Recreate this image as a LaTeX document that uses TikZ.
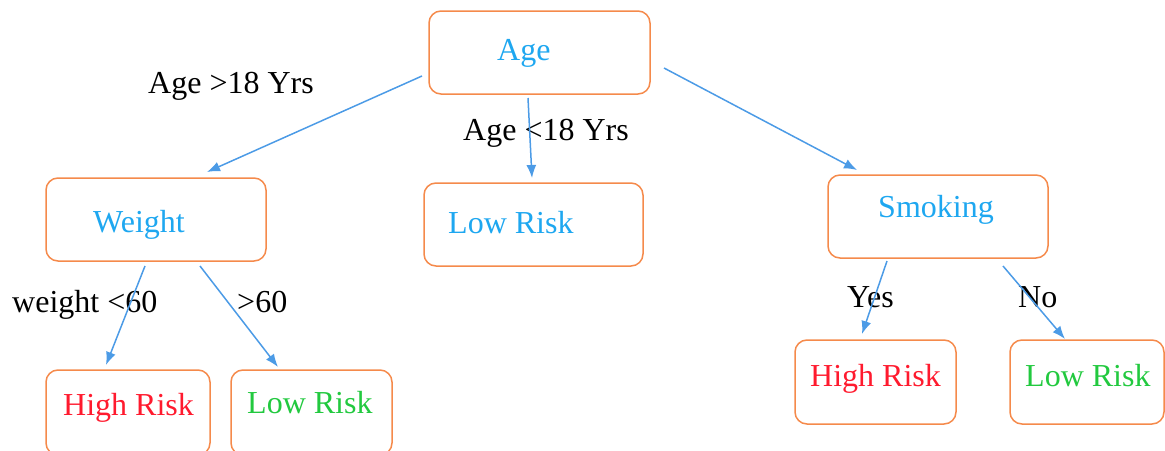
\documentclass[tikz,border=0pt]{standalone}
\usepackage{fontspec}
\setmainfont{Liberation Serif}
\usetikzlibrary{arrows.meta}
\definecolor{boxorange}{HTML}{F58A4B}
\definecolor{txtblue}{HTML}{1EA7F0}
\definecolor{arrblue}{HTML}{4C9BE6}
\definecolor{txtred}{HTML}{FF1A2E}
\definecolor{txtgreen}{HTML}{22C93F}
\tikzset{
  box/.style={draw=boxorange, line width=1.5pt, rounded corners=12pt, inner sep=0pt, outer sep=0pt},
  lbl/.style={font=\fontsize{32}{38}\selectfont, anchor=base west, inner sep=0pt},
  conn/.style={draw=arrblue, line width=1.5pt, -{Latex[length=13pt,width=10pt]}}
}
\begin{document}
\begin{tikzpicture}[x=1pt,y=-1pt]
\useasboundingbox (0,0) rectangle (1165,450);
\clip (0,0) rectangle (1165,450);
% boxes
\node[box, minimum width=221pt, minimum height=83pt] (agebox) at (539.5,52.5) {};
\node[box, minimum width=220pt, minimum height=83pt] (weightbox) at (156,219.5) {};
\node[box, minimum width=219pt, minimum height=83pt] (lowmidbox) at (533.5,224.5) {};
\node[box, minimum width=220pt, minimum height=83pt] (smokebox) at (938,216.5) {};
\node[box, minimum width=164pt, minimum height=85pt] (highLbox) at (128,412.5) {};
\node[box, minimum width=161pt, minimum height=85pt] (lowLbox) at (311.5,412.5) {};
\node[box, minimum width=161pt, minimum height=84pt] (highRbox) at (875.5,382) {};
\node[box, minimum width=154pt, minimum height=84pt] (lowRbox) at (1087,382) {};
% box texts
\node[lbl, text=txtblue] (age) at (497,60) {Age};
\node[lbl, text=txtblue] (weight) at (93,232) {Weight};
\node[lbl, text=txtblue] (lowmid) at (448,233) {Low Risk};
\node[lbl, text=txtblue] (smoking) at (878,217) {Smoking};
\node[lbl, text=txtred] (highL) at (63,415) {High Risk};
\node[lbl, text=txtgreen] (lowL) at (247,413) {Low Risk};
\node[lbl, text=txtred] (highR) at (810,386) {High Risk};
\node[lbl, text=txtgreen] (lowR) at (1025,386) {Low Risk};
% edge labels
\node[lbl] (l1) at (148,93) {Age >18 Yrs};
\node[lbl] (l2) at (463,140) {Age <18 Yrs};
\node[lbl] (l3) at (12,312) {weight <60};
\node[lbl] (l4) at (237,312) {>60};
\node[lbl] (l5) at (847,307) {Yes};
\node[lbl] (l6) at (1018,307) {No};
% connector endpoints
\coordinate (a1) at (422,76);   \coordinate (w1) at (207,172);
\coordinate (a2) at (528,98);   \coordinate (m1) at (532,178);
\coordinate (a3) at (664,68);   \coordinate (s1) at (857,170);
\coordinate (w2) at (145,266);  \coordinate (hl) at (106,365);
\coordinate (w3) at (200,266);  \coordinate (ll) at (278,367);
\coordinate (s2) at (887,261);  \coordinate (hr) at (862,334);
\coordinate (s3) at (1003,266); \coordinate (lr) at (1065,339);
% connectors
\draw[conn] (a1) -- (w1);
\draw[conn] (a2) -- (m1);
\draw[conn] (a3) -- (s1);
\draw[conn] (w2) -- (hl);
\draw[conn] (w3) -- (ll);
\draw[conn] (s2) -- (hr);
\draw[conn] (s3) -- (lr);
\end{tikzpicture}
\end{document}
